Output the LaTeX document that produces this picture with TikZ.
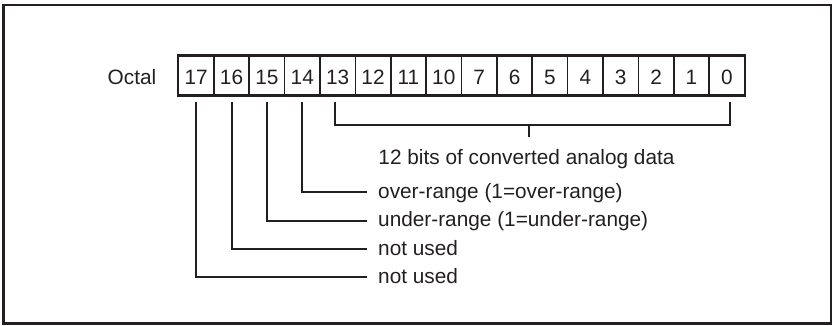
\documentclass[tikz,border=0pt]{standalone}
\usepackage{fontspec}
\setmainfont{Liberation Sans}
\definecolor{ink}{RGB}{35,31,32}
\begin{document}
\begin{tikzpicture}[x=1pt,y=-1pt,
  every node/.style={text=ink, font=\fontsize{20.8}{24}\selectfont},
  bitcell/.style={draw=ink, line width=1.6pt, minimum width=35.375pt, minimum height=39pt,
    inner sep=0pt, text height=18pt, text depth=0pt},
  lead/.style={draw=ink, line width=2pt},
  note/.style={anchor=base west, inner sep=0pt}]
\useasboundingbox (0,0) rectangle (833,325);
% outer frame
\draw[ink, line width=2.2pt] (3.5,5) rectangle (831,323.5);

% register label
\node[anchor=base, inner sep=0pt] (octal) at (132,84.5) {Octal};

% the sixteen bit cells, 17 (left) down to 0 (right)
\foreach \lab [count=\i from 0] in {17,16,15,14,13,12,11,10,7,6,5,4,3,2,1,0} {
  \node[bitcell] (c\lab) at (178.5+17.6875+35.375*\i, 75.5) {\lab};
}
\draw[ink, line width=2pt] (c17.north west) rectangle (c0.south east);

% bracket over the data bits
\coordinate (bl) at ([xshift=-3pt,yshift=-6pt]c13.south);
\coordinate (br) at ([xshift=3pt,yshift=-6pt]c0.south);
\coordinate (bm) at (529,125);
\coordinate (bt) at (529,137);
\draw[lead] (bl) |- (bm) -| (br);
\draw[lead] (bm) -- (bt);
\node[anchor=base, inner sep=0pt] (data) at (526.5,164) {12 bits of converted analog data};

% leaders from the flag bits
\coordinate (e14) at (367,192.3);
\coordinate (e15) at (367,220.7);
\coordinate (e16) at (367,249);
\coordinate (e17) at (367,277.3);
\node[note] (n14) at (378,198.3) {over-range (1=over-range)};
\node[note] (n15) at (378,226.7) {under-range (1=under-range)};
\node[note] (n16) at (378,255) {not used};
\node[note] (n17) at (378,283.3) {not used};
\draw[lead] ([yshift=-6pt]c14.south) |- (e14);
\draw[lead] ([yshift=-6pt]c15.south) |- (e15);
\draw[lead] ([yshift=-6pt]c16.south) |- (e16);
\draw[lead] ([yshift=-6pt]c17.south) |- (e17);
\end{tikzpicture}
\end{document}
